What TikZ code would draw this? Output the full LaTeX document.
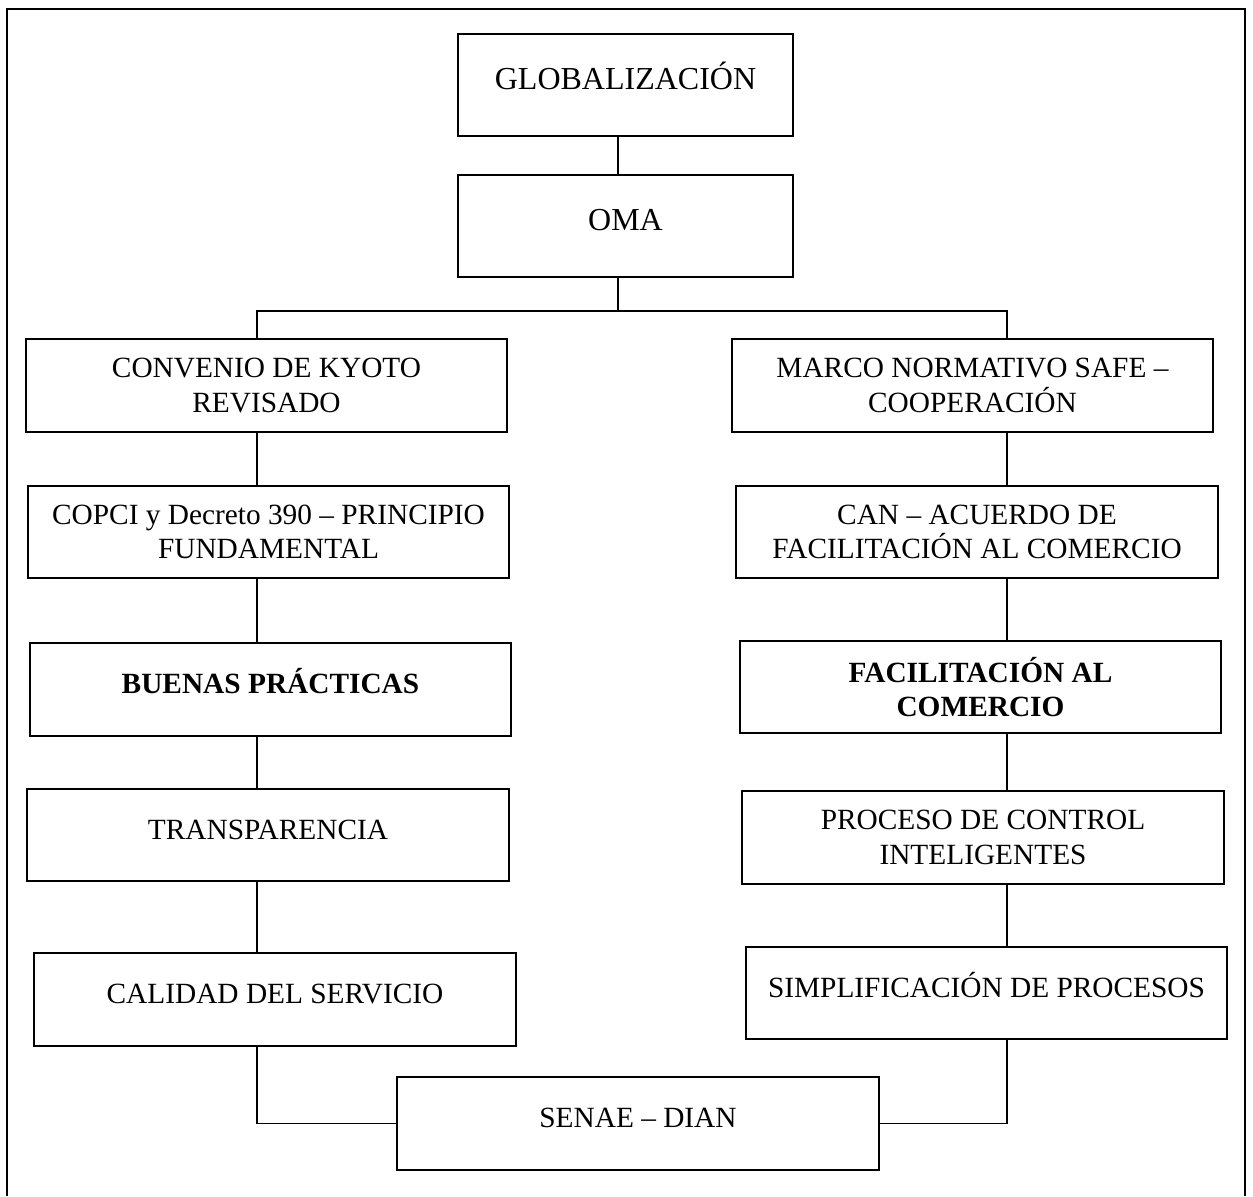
\documentclass[tikz,border=0pt]{standalone}
\usepackage{fontspec}
\setmainfont{Liberation Serif}
\begin{document}
\begin{tikzpicture}[x=0.5pt,y=-0.5pt,
  box/.style={draw, line width=1.2pt, inner sep=0pt, align=center,
    font=\fontsize{14.67}{17.2}\selectfont},
  big/.style={font=\fontsize{16}{18}\selectfont},
  bx/.style 2 args={minimum width=#1*0.5pt, minimum height=#2*0.5pt},
  one/.style={text height=10.5pt, text depth=6.5pt},
  conn/.style={line width=0.6pt}]
\useasboundingbox (0,0) rectangle (1253,1196);
\draw[line width=1.1pt] (7,1196) -- (7,9) -- (1245,9) -- (1245,1196);

\coordinate (tx) at (618,0);
\coordinate (lx) at (257,0);
\coordinate (rx) at (1007,0);
\coordinate (split) at (618,311);

\node[box, big, one, text height=11pt, text depth=7pt, bx={335}{102}] (glob) at (625.5,85) {GLOBALIZACIÓN};
\node[box, big, one, text height=11pt, text depth=7pt, bx={335}{102}] (oma) at (625.5,226) {OMA};

\node[box, bx={481}{93}] (conv) at (266.5,385.5) {CONVENIO DE KYOTO\\REVISADO};
\node[box, bx={481}{93}] (marco) at (972.5,385.5) {MARCO NORMATIVO SAFE –\\COOPERACIÓN};
\node[box, bx={481}{92}] (copci) at (268.5,532) {COPCI y Decreto 390 – PRINCIPIO\\FUNDAMENTAL};
\node[box, bx={482}{92}] (can) at (977,532) {CAN – ACUERDO DE\\FACILITACIÓN AL COMERCIO};
\node[box, one, bx={481}{93}] (buenas) at (270.5,689.5) {\bfseries BUENAS PRÁCTICAS};
\node[box, bx={481}{92}, font=\fontsize{14.67}{17.2}\selectfont\bfseries] (facil) at (980.5,687) {FACILITACIÓN AL\\COMERCIO};
\node[box, one, bx={482}{92}] (transp) at (268,835) {TRANSPARENCIA};
\node[box, bx={482}{93}] (proc) at (983,837.5) {PROCESO DE CONTROL\\INTELIGENTES};
\node[box, one, bx={482}{93}] (cal) at (275,999.5) {CALIDAD DEL SERVICIO};
\node[box, one, bx={481}{92}] (simp) at (986.5,993) {SIMPLIFICACIÓN DE PROCESOS};
\node[box, one, bx={482}{93}] (senae) at (638,1123.5) {SENAE – DIAN};

\draw[conn] (glob.south -| tx) -- (oma.north -| tx);
\draw[conn] (oma.south -| tx) -- (split);
\draw[conn] (conv.north -| lx) |- (split) -| (marco.north -| rx);
\draw[conn] (conv.south -| lx) -- (copci.north -| lx);
\draw[conn] (copci.south -| lx) -- (buenas.north -| lx);
\draw[conn] (buenas.south -| lx) -- (transp.north -| lx);
\draw[conn] (transp.south -| lx) -- (cal.north -| lx);
\draw[conn] (cal.south -| lx) |- (senae.west);
\draw[conn] (marco.south -| rx) -- (can.north -| rx);
\draw[conn] (can.south -| rx) -- (facil.north -| rx);
\draw[conn] (facil.south -| rx) -- (proc.north -| rx);
\draw[conn] (proc.south -| rx) -- (simp.north -| rx);
\draw[conn] (simp.south -| rx) |- (senae.east);
\end{tikzpicture}
\end{document}
